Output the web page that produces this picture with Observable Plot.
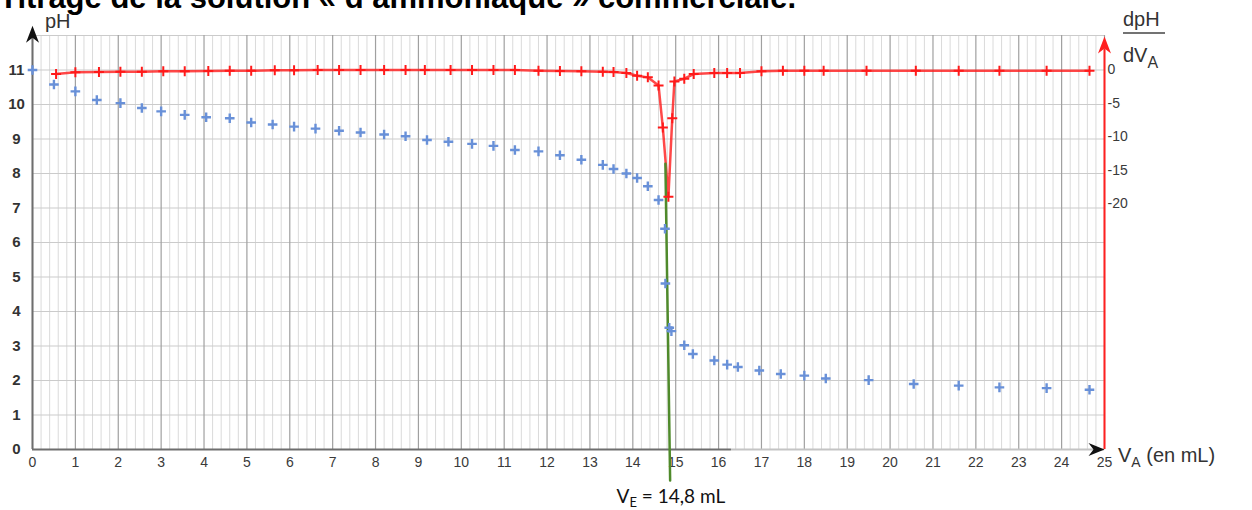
<!DOCTYPE html>
<html><head><meta charset="utf-8">
<script src="https://cdn.jsdelivr.net/npm/d3@7"></script>
<script src="https://cdn.jsdelivr.net/npm/@observablehq/plot@0.6"></script>
<style>
html,body{margin:0;padding:0;background:#fff;}
#chart{width:1252px;height:510px;overflow:hidden;}
</style></head><body><div id="chart"></div>
<script>
// ---- data ----
const vBlue = [0, 0.5, 1.0, 1.5, 2.05, 2.55, 3.0, 3.55, 4.05, 4.6,
  5.1, 5.6, 6.1, 6.6, 7.15, 7.65, 8.2, 8.7, 9.2, 9.7,
  10.25, 10.75, 11.25, 11.8, 12.3, 12.8, 13.3, 13.55, 13.85, 14.1,
  14.35, 14.6, 14.75, 14.76, 14.85, 14.9, 15.2, 15.4, 15.9, 16.2,
  16.45, 16.95, 17.45, 18.0, 18.5, 19.5, 20.55, 21.6, 22.55, 23.65, 24.65];
const pHValues = [11.0, 10.58, 10.38, 10.13, 10.04, 9.9, 9.8, 9.7, 9.63, 9.6,
  9.48, 9.42, 9.36, 9.3, 9.24, 9.19, 9.13, 9.08, 8.97, 8.92,
  8.86, 8.8, 8.68, 8.64, 8.53, 8.4, 8.25, 8.13, 8.0, 7.87,
  7.63, 7.23, 6.4, 4.81, 3.53, 3.43, 3.02, 2.77, 2.58, 2.46,
  2.39, 2.29, 2.19, 2.14, 2.06, 2.01, 1.9, 1.85, 1.8, 1.78, 1.73];
const vRed = [0.55, 1.0, 1.55, 2.05, 2.55, 3.05, 3.55, 4.1, 4.6, 5.1,
  5.65, 6.1, 6.65, 7.15, 7.65, 8.2, 8.7, 9.15, 9.75, 10.25,
  10.75, 11.25, 11.8, 12.3, 12.8, 13.3, 13.55, 13.85, 14.1, 14.35,
  14.6, 14.7, 14.83, 14.92, 14.97, 15.2, 15.42, 15.9, 16.2, 16.5,
  17.0, 17.5, 18.0, 18.45, 19.45, 20.6, 21.6, 22.55, 23.65, 24.65];
const dpHValues = [-0.6, -0.35, -0.3, -0.25, -0.25, -0.2, -0.2, -0.15, -0.1, -0.1,
  -0.05, -0.05, 0, 0, 0, 0, 0, 0, 0, 0,
  0, 0, -0.1, -0.15, -0.2, -0.25, -0.3, -0.45, -0.85, -1.1,
  -2.3, -8.6, -18.9, -7.2, -1.7, -1.3, -0.6, -0.45, -0.45, -0.45,
  -0.2, -0.1, -0.1, -0.1, -0.1, -0.1, -0.1, -0.1, -0.1, -0.1];
const xTicks = d3.range(0, 26);          // 0..25 mL
const pHTicks = d3.range(0, 12);         // 0..11
const dTicks = [0, -5, -10, -15, -20];   // right axis
const tangentV = [14.76, 14.87];
const tangentPH = [8.28, -0.9];
const VE = 14.8;
const titleText = "Titrage de la solution « d’ammoniaque » commerciale.";

// right axis: dpH/dVA mapped onto the pH scale (0 at pH 11)
const K = 0.1942;
const toY = d => 11 + d * K;
const fromY = y => (y - 11) / K;

const blue = vBlue.map((v, i) => ({v, y: pHValues[i]}));
const red = vRed.map((v, i) => ({v, y: toY(dpHValues[i])}));
const tangent = tangentV.map((v, i) => ({v, y: tangentPH[i]}));

const minorX = d3.range(0, 125).map(i => i / 5).filter(v => !Number.isInteger(v));
const gridY = d3.range(0, 13);

const sym = pts => ({draw(ctx) { ctx.moveTo(pts[0][0], pts[0][1]); for (const p of pts.slice(1)) ctx.lineTo(p[0], p[1]); ctx.closePath(); }});
const arrowUp = sym([[0,0],[6.5,17],[0,12],[-6.5,17]]);
const arrowRight = sym([[0,0],[-16,-6.5],[-11,0],[-16,6.5]]);
const cross = h => ({draw(ctx) { ctx.moveTo(-h, 0); ctx.lineTo(h, 0); ctx.moveTo(0, -h); ctx.lineTo(0, h); }});

const font = "'Liberation Sans', Arial, sans-serif";

const chart = Plot.plot({
  width: 1252, height: 510,
  marginLeft: 32, marginRight: 148, marginTop: 35, marginBottom: 61,
  x: {domain: [0, 25], label: null},
  y: {domain: [0, 12], label: null},
  style: {fontFamily: font, background: "white"},
  marks: [
    Plot.ruleX(minorX, {y1: 0, y2: 12, stroke: "#dadada", strokeWidth: 1}),
    Plot.ruleY(gridY, {x1: 0, x2: 25, stroke: "#cbcbcb", strokeWidth: 1.2}),
    Plot.ruleX(xTicks, {y1: 0, y2: 12, stroke: "#a0a0a0", strokeWidth: 1.2}),
    Plot.ruleY([0], {x1: 16.3, x2: 25, stroke: "#c4c4c4", strokeWidth: 2}),
    Plot.ruleY([0], {x1: 0, x2: 16.3, stroke: "#6e6e6e", strokeWidth: 2}),
    Plot.ruleX([0], {y1: 0, y2: 12.0, stroke: "#6e6e6e", strokeWidth: 2}),
    Plot.ruleX([25], {y1: 0, y2: 11.6, stroke: "#ff2020", strokeWidth: 2}),
    Plot.dot([{v: 0, y: 12.28}], {x: "v", y: "y", symbol: arrowUp, fill: "#111", stroke: "none"}),
    Plot.dot([{v: 25, y: 11.97}], {x: "v", y: "y", symbol: arrowUp, fill: "#ff2020", stroke: "none"}),
    Plot.dot([{v: 25, y: 0}], {x: "v", y: "y", symbol: arrowRight, fill: "#111", stroke: "none"}),
    Plot.axisX(xTicks, {tickSize: 0, tickPadding: 8, fontSize: 14, color: "#3a3a3a", label: null}),
    Plot.axisY(pHTicks, {anchor: "left", tickSize: 0, tickPadding: 16, textAnchor: "middle", fontSize: 15, color: "#333", fontWeight: "bold", label: null}),
    Plot.axisY(dTicks.map(toY), {anchor: "right", tickSize: 0, tickPadding: 3, fontSize: 14, color: "#3a3a3a", label: null,
      tickFormat: y => String(Math.round(fromY(y)))}),
    Plot.line(red, {x: "v", y: "y", stroke: "#ff1a1a", strokeWidth: 2.5, strokeOpacity: 0.8}),
    Plot.line(tangent, {x: "v", y: "y", stroke: "#4f8a2b", strokeWidth: 2.5}),
    Plot.dot(red, {x: "v", y: "y", symbol: cross(5), stroke: "#ff1a1a", strokeWidth: 2}),
    Plot.dot(blue, {x: "v", y: "y", symbol: cross(4.8), stroke: "#6890d8", strokeWidth: 2.4})
  ]
});
document.getElementById("chart").appendChild(chart);

// ---- texts with subscripts ----
const svg = d3.select(chart);
const xs = chart.scale("x");
const add = (x, y, size, opts = {}) => svg.append("text").attr("x", x).attr("y", y)
  .attr("font-size", size).attr("font-family", opts.family || font)
  .attr("font-weight", opts.weight || "normal").attr("fill", opts.fill || "#333")
  .attr("text-anchor", opts.anchor || "start");

add(-1, 8, 31, {weight: "bold", fill: "#000"}).text(titleText);
add(45, 28, 20).text("pH");
add(1123, 26, 20).text("dpH");
svg.append("line").attr("x1", 1123).attr("x2", 1165).attr("y1", 33).attr("y2", 33).attr("stroke", "#444").attr("stroke-width", 1.5);
const dv = add(1123, 62, 20); dv.text("dV"); dv.append("tspan").attr("font-size", 16).attr("dy", 6).text("A");
const va = add(1118, 462, 20); va.text("V");
va.append("tspan").attr("font-size", 14).attr("dy", 5).text("A");
va.append("tspan").attr("dy", -5).text(" (en mL)");
const ve = add(xs.apply(VE) - 50, 503, 19, {family: "Lato, 'Open Sans', sans-serif", fill: "#111"});
ve.text("V"); ve.append("tspan").attr("font-size", 13).attr("dy", 4).text("E");
ve.append("tspan").attr("dy", -4).text(" = 14,8 mL");
</script></body></html>
